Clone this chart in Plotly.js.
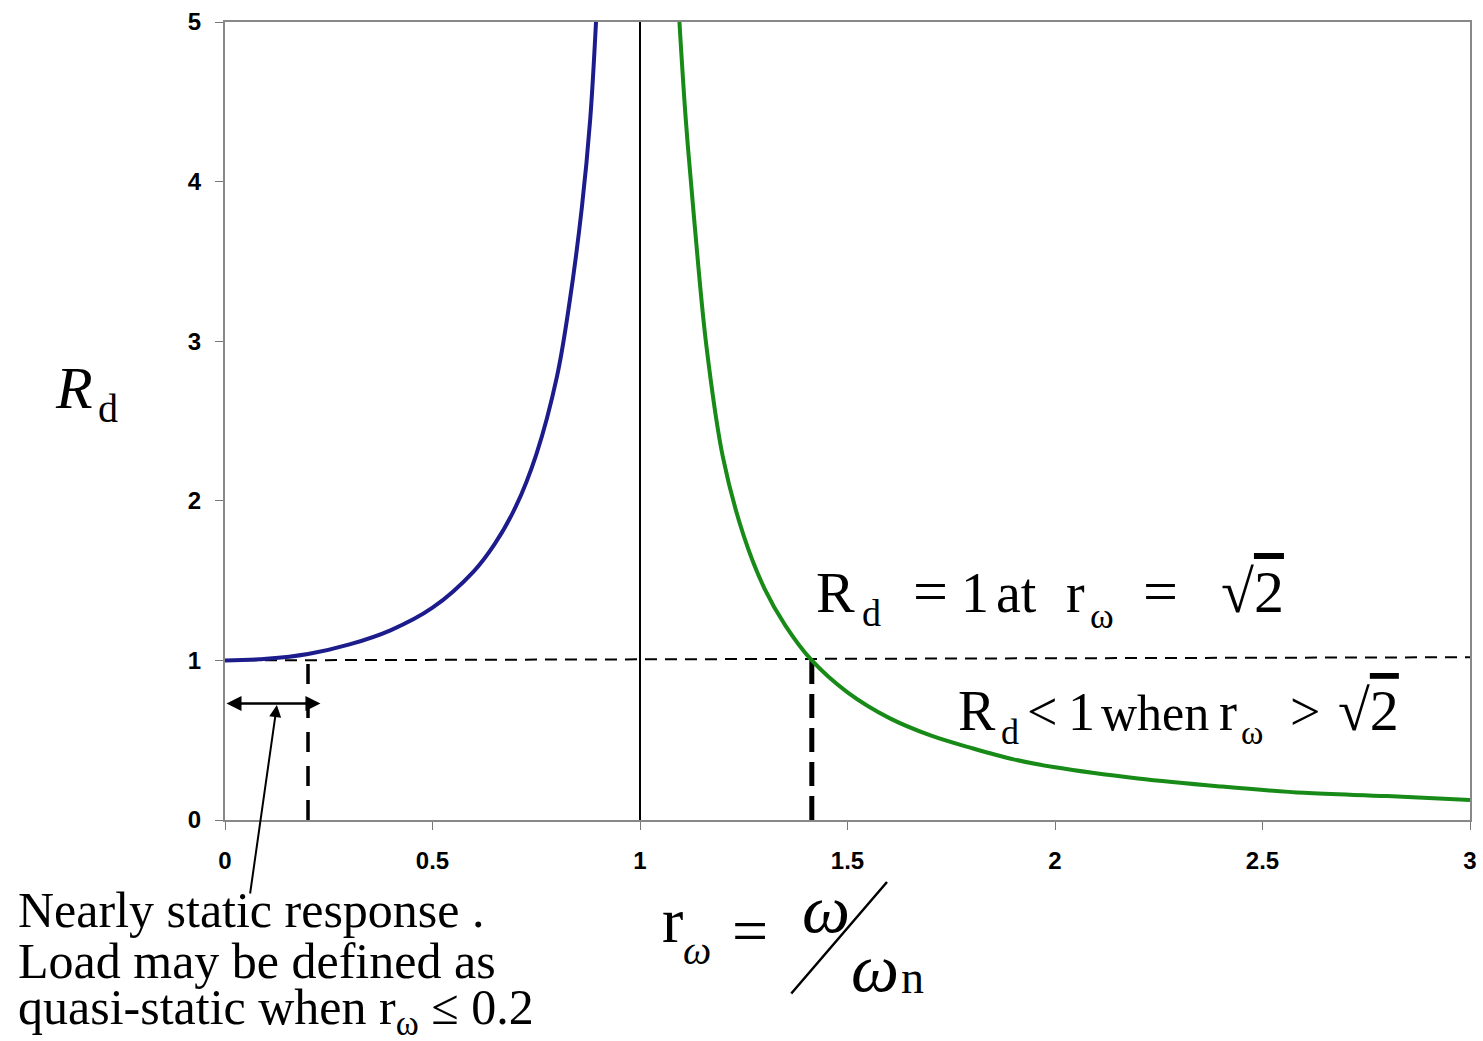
<!DOCTYPE html>
<html>
<head>
<meta charset="utf-8">
<script src="https://cdn.plot.ly/plotly-3.0.1.min.js"></script>
<style>
  html, body { margin: 0; padding: 0; background: #fff; }
  #plot { width: 1483px; height: 1041px; }
</style>
</head>
<body>
<div id="plot"></div>
<script>
// values
const belowX = [0, 0.1, 0.2, 0.3, 0.4, 0.5, 0.6, 0.65, 0.7, 0.75, 0.8, 0.83, 0.86, 0.88, 0.894];
const belowY = [1.0, 1.01, 1.04, 1.10, 1.19, 1.33, 1.56, 1.73, 1.96, 2.29, 2.78, 3.24, 3.84, 4.39, 5.0];

const aboveX = [1.095, 1.11, 1.13, 1.16, 1.2, 1.25, 1.3, 1.35, 1.414, 1.5, 1.6, 1.7, 1.8, 1.9, 2.0, 2.2, 2.4, 2.6, 2.8, 3.0];
const aboveY = [5.0, 4.4, 3.78, 2.97, 2.27, 1.78, 1.45, 1.22, 1.0, 0.80, 0.64, 0.53, 0.45, 0.38, 0.33, 0.26, 0.21, 0.17, 0.15, 0.125];

// guide lines
const unitX = [0, 3];
const unitY = [1, 1.02];
const resX = [1, 1];
const resY = [0, 5];
const quasiX = [0.2, 0.2];
const quasiY = [0, 1.04];
const rootX = [1.414, 1.414];
const rootY = [0, 1];

const xTicks = [0, 0.5, 1, 1.5, 2, 2.5, 3];
const xTickText = ['0', '0.5', '1', '1.5', '2', '2.5', '3'];
const yTicks = [0, 1, 2, 3, 4, 5];

const noteLines = [
    'Nearly static response .',
    'Load may be defined as',
    'quasi-static when r<sub>ω</sub> ≤ 0.2'
];

const serif = 'Liberation Serif, Times New Roman, serif';
const root2 = '√<span style="text-decoration:overline">2</span>';

function px(x) { return (x - 225) / 1245; }
function py(y) { return (820 - y) / 798; }

// one piece of equation text, centred at cx with its baseline at base (pixels)
function txt(text, cx, base, size, italic) {
    return {
        x: px(cx), y: py(base - 0.3375 * size), xref: 'paper', yref: 'paper',
        xanchor: 'center', yanchor: 'middle', showarrow: false,
        text: italic ? '<i>' + text + '</i>' : text,
        font: { family: serif, size: size, color: '#000' }
    };
}

function draw() {
    const traces = [
        { x: unitX, y: unitY, mode: 'lines', line: { color: '#000', width: 2, dash: '12px,8px' } },
        { x: resX, y: resY, mode: 'lines', line: { color: '#000', width: 2 } },
        { x: quasiX, y: quasiY, mode: 'lines', line: { color: '#000', width: 3.5, dash: '20px,14px' } },
        { x: rootX, y: rootY, mode: 'lines', line: { color: '#000', width: 5, dash: '24px,10px' } },
        { x: belowX, y: belowY, mode: 'lines', line: { color: '#1c1c8c', width: 4, shape: 'spline' } },
        { x: aboveX, y: aboveY, mode: 'lines', line: { color: '#178a17', width: 4, shape: 'spline' } }
    ];

    const tickFont = { family: 'Liberation Sans, Arial, sans-serif', size: 24, color: '#000', weight: 'bold' };

    const annotations = [
        // double arrow for quasi-static range
        { x: 0.23, y: 0.73, ax: 0, ay: 0.73, axref: 'x', ayref: 'y', text: '',
          showarrow: true, arrowside: 'end+start', arrowhead: 2, arrowsize: 1.2, arrowwidth: 2.5, arrowcolor: '#000' },
        // pointer from the note
        { x: 0.125, y: 0.72, ax: 0.06, ay: -0.47, axref: 'x', ayref: 'y', text: '',
          showarrow: true, arrowhead: 2, arrowsize: 1.2, arrowwidth: 2, arrowcolor: '#000' },

        // R_d = 1 at r_w = sqrt2
        txt('R', 835, 612, 58), txt('d', 871, 626, 38),
        txt('=', 930, 612, 62), txt('1', 975, 612, 56), txt('at', 1016, 612, 56),
        txt('r', 1075, 612, 56), txt('ω', 1102, 628, 36),
        txt('=', 1160, 612, 62), txt(root2, 1252, 612, 60),

        // R_d < 1 when r_w > sqrt2
        txt('R', 977, 730, 56), txt('d', 1010, 744, 36),
        txt('&lt;', 1042, 730, 54), txt('1', 1081, 730, 54), txt('when', 1155, 730, 50),
        txt('r', 1228, 730, 54), txt('ω', 1252, 744, 34),
        txt('&gt;', 1305, 730, 54), txt(root2, 1368, 730, 58),

        // y title
        txt('R', 74, 408, 60, true), txt('d', 108, 422, 40),

        // x title
        txt('r', 672, 942, 64), txt('ω', 697, 964, 40, true),
        txt('=', 750, 952, 64),
        txt('ω', 826, 932, 68, true),
        txt('ω', 875, 991, 68, true), txt('n', 912, 993, 46),
        { x: px(887), y: py(882), ax: px(790), ay: py(995),
          xref: 'paper', yref: 'paper', axref: 'paper', ayref: 'paper', text: '',
          showarrow: true, arrowhead: 0, arrowwidth: 2.5, arrowcolor: '#000' }
    ];

    // note, one annotation per line to keep the tight line spacing
    const noteY = [910, 961, 1011];
    noteLines.forEach(function (line, i) {
        annotations.push({
            x: px(16), y: py(noteY[i]), xref: 'paper', yref: 'paper', showarrow: false,
            xanchor: 'left', yanchor: 'middle', align: 'left',
            text: line, font: { family: serif, size: 50, color: '#000' }
        });
    });

    const layout = {
        width: 1483,
        height: 1041,
        margin: { l: 225, r: 13, t: 22, b: 221 },
        paper_bgcolor: '#fff',
        plot_bgcolor: '#fff',
        showlegend: false,
        xaxis: {
            range: [0, 3],
            tickvals: xTicks,
            ticktext: xTickText,
            ticks: 'outside',
            ticklen: 8,
            tickcolor: '#777',
            ticklabelstandoff: 10,
            showgrid: false,
            zeroline: false,
            showline: true,
            linecolor: '#888',
            linewidth: 2,
            mirror: true,
            tickfont: tickFont
        },
        yaxis: {
            range: [0, 5],
            tickvals: yTicks,
            ticks: 'outside',
            ticklen: 8,
            tickcolor: '#777',
            ticklabelstandoff: 9,
            showgrid: false,
            zeroline: false,
            showline: true,
            linecolor: '#888',
            linewidth: 2,
            mirror: true,
            tickfont: tickFont
        },
        annotations: annotations
    };

    Plotly.newPlot('plot', traces, layout, { displayModeBar: false, staticPlot: true });
}

draw();
</script>
</body>
</html>
